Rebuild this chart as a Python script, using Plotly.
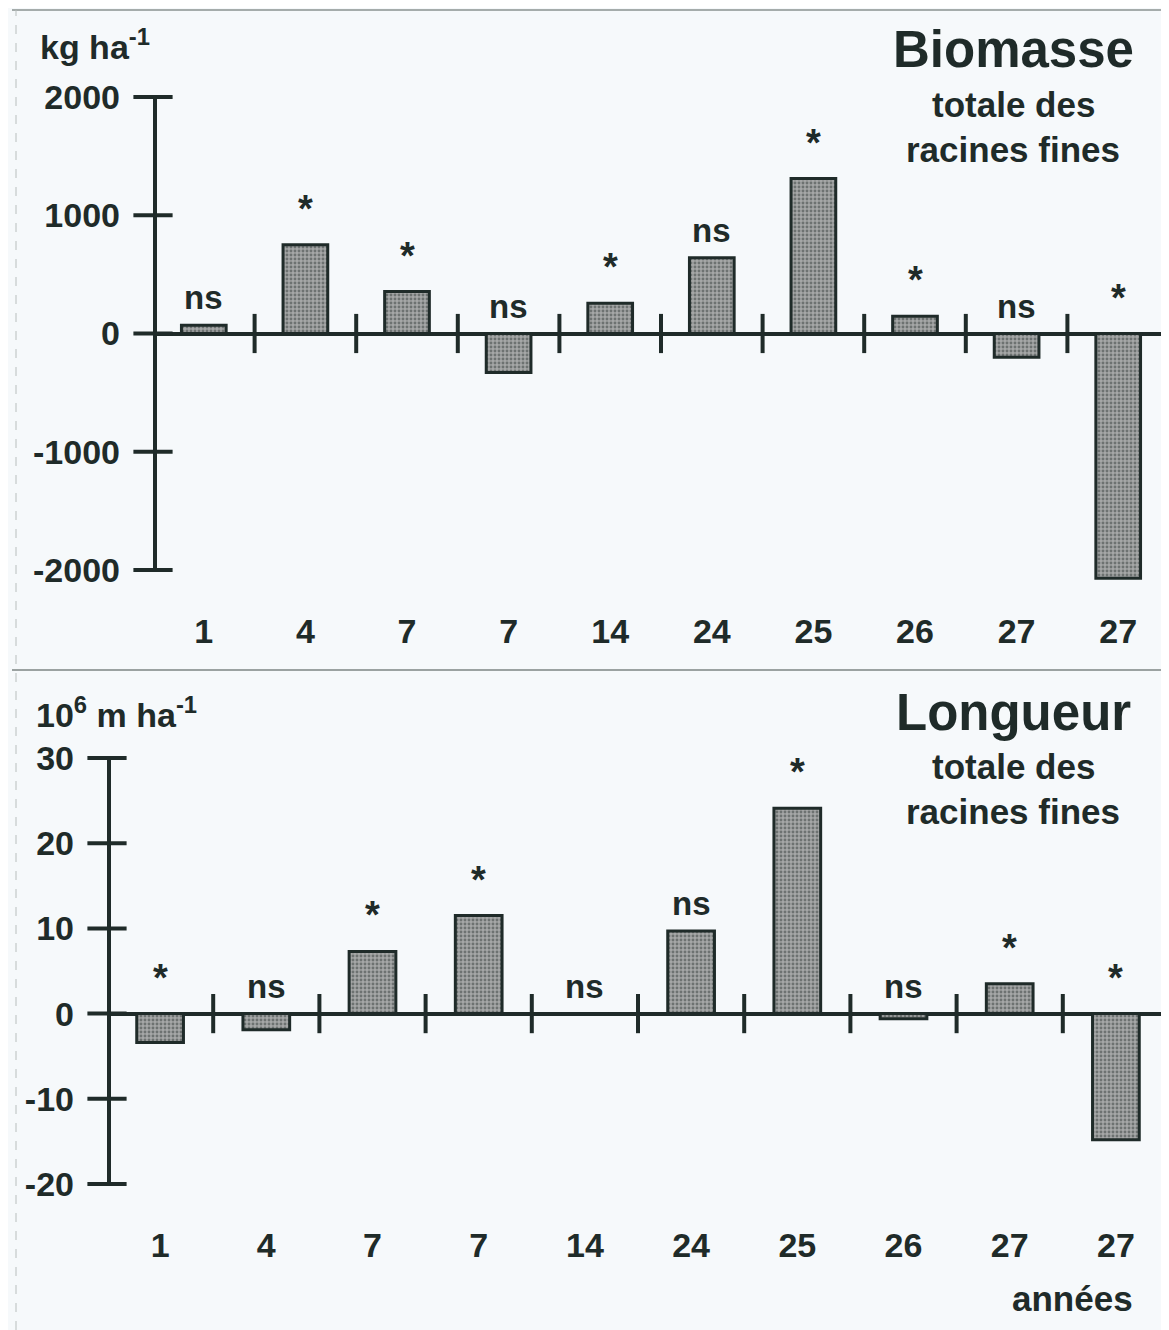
import plotly.graph_objects as go

# category labels (years), same for both panels
years = ["1", "4", "7", "7", "14", "24", "25", "26", "27", "27"]

# top panel: biomass difference (kg ha-1)
biomass = [70, 750, 355, -330, 255, 640, 1310, 145, -200, -2070]
biomass_sig = ["ns", "*", "*", "ns", "*", "ns", "*", "*", "ns", "*"]
biomass_ticks = [-2000, -1000, 0, 1000, 2000]

# bottom panel: length difference (10^6 m ha-1)
length = [-3.4, -1.9, 7.3, 11.5, 0, 9.7, 24.1, -0.6, 3.5, -14.8]
length_sig = ["*", "ns", "*", "*", "ns", "ns", "*", "ns", "*", "*"]
length_ticks = [-20, -10, 0, 10, 20, 30]

# the page body keeps its default 8px margin, so the figure is that much smaller
OFF = 8
W, H = 1169 - OFF, 1330 - OFF
INK = "#1f2b29"
BG = "#f6f9fb"
FONT = "Liberation Sans, Arial, sans-serif"
EXTRA = 0.03  # room below the lowest tick so a bar may run past it


def px_x(px):
    # screen column -> paper x
    return (px - OFF) / W


def px_y(px):
    # screen row -> paper y
    return 1 - (px - OFF) / H


fig = go.Figure()

panels = [
    # values, sig, ticks, x-axis left px, y px of top tick, y px of bottom tick, id,
    # unit text + position, title + rows
    (biomass, biomass_sig, biomass_ticks, 153, 97, 570, "", "kg ha<sup>-1</sup>", 38, 44,
     "Biomasse", 50, 104, 150),
    (length, length_sig, length_ticks, 107, 758, 1184, "2", "10<sup>6</sup> m ha<sup>-1</sup>", 34, 712,
     "Longueur", 712, 767, 812),
]

x_idx = list(range(len(years)))

for (vals, sig, ticks, xl, ytop, ybot, n, unit, ux, uy,
     title, ty, t1, t2) in panels:
    xa, ya = "x" + n, "y" + n
    span = ticks[-1] - ticks[0]
    ylow = ticks[0] - EXTRA * span
    ybot_ext = ybot + EXTRA * (ybot - ytop)

    fig.add_trace(go.Bar(
        x=x_idx, y=vals, width=0.44, xaxis=xa, yaxis=ya,
        marker=dict(color="#a5a7a7",
                    line=dict(color=INK, width=3),
                    pattern=dict(shape=".", fgcolor="#353d3b", size=4, solidity=0.42)),
        showlegend=False, hoverinfo="skip",
    ))
    # value axis line, from lowest to highest tick only
    # (half of it is clipped at the plot edge, hence the double width)
    fig.add_trace(go.Scatter(
        x=[-0.5, -0.5], y=[ticks[0], ticks[-1]], xaxis=xa, yaxis=ya,
        mode="lines", line=dict(color=INK, width=8),
        showlegend=False, hoverinfo="skip",
    ))
    # crossing ticks on the zero line, between categories
    fig.add_trace(go.Scatter(
        x=[i + 0.5 for i in x_idx[:-1]], y=[0] * (len(years) - 1),
        xaxis=xa, yaxis=ya, mode="markers", cliponaxis=False,
        marker=dict(symbol="line-ns", size=28, line=dict(color=INK, width=4)),
        showlegend=False, hoverinfo="skip",
    ))
    # crossing ticks on the value axis
    fig.add_trace(go.Scatter(
        x=[-0.5] * len(ticks), y=ticks,
        xaxis=xa, yaxis=ya, mode="markers", cliponaxis=False,
        marker=dict(symbol="line-ew", size=28, line=dict(color=INK, width=4)),
        showlegend=False, hoverinfo="skip",
    ))
    for i, (v, s) in enumerate(zip(vals, sig)):
        fig.add_annotation(
            x=i, y=max(v, 0), xref=xa, yref=ya, text=s, showarrow=False,
            yanchor="bottom", yshift=7 if s == "ns" else 13,
            font=dict(size=33 if s == "ns" else 38, color=INK, family=FONT, weight="bold"),
        )
    fig.update_layout(**{
        "xaxis" + n: dict(
            domain=[px_x(xl), 1], range=[-0.5, 9.5], anchor=ya, automargin=False,
            tickmode="array", tickvals=x_idx, ticktext=years,
            showline=False, showgrid=False, zeroline=False, ticks="",
            ticklabelstandoff=int(round(38 - (ybot_ext - ybot))),
            tickfont=dict(size=34, color=INK, family=FONT, weight="bold"),
        ),
        "yaxis" + n: dict(
            domain=[px_y(ybot_ext), px_y(ytop)], range=[ylow, ticks[-1]], anchor=xa,
            automargin=False,
            tickmode="array", tickvals=ticks, ticktext=[str(t) for t in ticks],
            showline=False,
            showgrid=False, zeroline=True, zerolinecolor=INK, zerolinewidth=4,
            ticks="", ticklabelstandoff=32,
            tickfont=dict(size=34, color=INK, family=FONT, weight="bold"),
        ),
    })
    fig.add_annotation(
        x=px_x(ux), y=px_y(uy), xref="paper", yref="paper", text=unit, showarrow=False,
        xanchor="left", yanchor="middle",
        font=dict(size=34, color=INK, family=FONT, weight="bold"),
    )
    for txt, yy, sz in [(title, ty, 51), ("totale des", t1, 35), ("racines fines", t2, 35)]:
        fig.add_annotation(
            x=px_x(1013), y=px_y(yy), xref="paper", yref="paper", text=txt, showarrow=False,
            xanchor="center", yanchor="middle",
            font=dict(size=sz, color=INK, family=FONT, weight="bold"),
        )

fig.add_annotation(
    x=px_x(1072), y=px_y(1298), xref="paper", yref="paper", text="années", showarrow=False,
    xanchor="center", yanchor="middle",
    font=dict(size=35, color=INK, family=FONT, weight="bold"),
)

# scan frame: top border, panel separator, faint left edge
fig.add_shape(type="line", xref="paper", yref="paper", x0=px_x(12), x1=1,
              y0=px_y(10), y1=px_y(10), line=dict(color="#8a9290", width=1.5))
fig.add_shape(type="line", xref="paper", yref="paper", x0=px_x(12), x1=1,
              y0=px_y(670), y1=px_y(670), line=dict(color="#7d8583", width=1.5))
fig.add_shape(type="line", xref="paper", yref="paper", x0=px_x(16), x1=px_x(16),
              y0=0, y1=px_y(10), line=dict(color="#b8bebd", width=1, dash="dash"))

fig.update_layout(
    width=W, height=H,
    margin=dict(l=0, r=0, t=0, b=0, pad=0),
    paper_bgcolor=BG, plot_bgcolor=BG,
    font=dict(family=FONT, color=INK, size=33, weight="bold"),
    bargap=0.5,
)

fig.write_html("out.html")
